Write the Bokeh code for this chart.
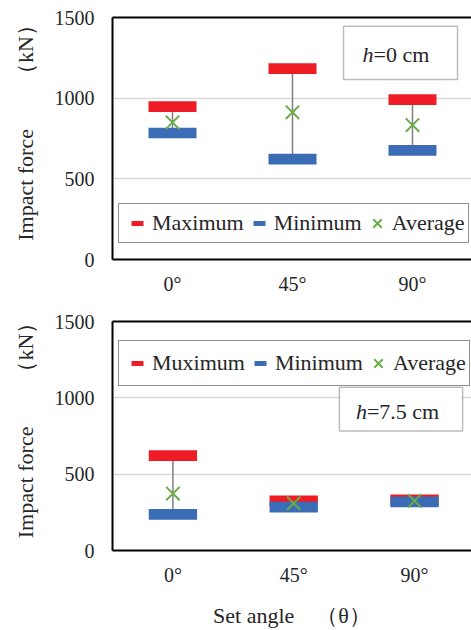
from bokeh.plotting import figure
from bokeh.layouts import column
from bokeh.models import (Range1d, FixedTicker, LinearAxis, Legend, LegendItem,
                          BoxAnnotation, Label, ColumnDataSource)
from bokeh.embed import file_html
from bokeh.resources import INLINE

# ---- data ----
categories = ["0°", "45°", "90°"]
max_h0 = [947, 1183, 991]
min_h0 = [784, 622, 676]
avg_h0 = [850, 912, 833]
max_h75 = [621, 325, 331]
min_h75 = [237, 284, 318]
avg_h75 = [373, 309, 325]
y_ticks = [0, 500, 1000, 1500]

RED = "#ee1c25"
BLUE = "#3b6cb6"
GREEN = "#6aad47"
GRAY = "#7f7f7f"
FONT = "Liberation Serif"
TXT = "#262626"


def make_panel(height, b_top, b_bottom, b_left, px_per_cat, maxv, minv, avgv,
               max_label, leg_loc, leg_h, box, htext, hx, hy, xlabel=None):
    frame_w = 471 - b_left
    p = figure(width=471, height=height, output_backend="svg", toolbar_location=None,
               x_range=Range1d(-0.5, -0.5 + frame_w / px_per_cat),
               y_range=Range1d(0, 1500),
               min_border_left=b_left, min_border_right=0,
               min_border_top=b_top, min_border_bottom=b_bottom)
    p.outline_line_color = None
    p.background_fill_color = "white"
    p.border_fill_color = "white"

    xs = list(range(len(categories)))
    src = ColumnDataSource(dict(x=xs, mx=maxv, mn=minv, av=avgv))

    # grid
    p.xgrid.visible = False
    p.ygrid.ticker = FixedTicker(ticks=y_ticks)
    p.ygrid.grid_line_color = "#d9d9d9"
    p.ygrid.grid_line_width = 1.5

    # axes
    p.yaxis.ticker = FixedTicker(ticks=y_ticks)
    p.xaxis.ticker = FixedTicker(ticks=xs)
    p.xaxis.major_label_overrides = {i: c for i, c in enumerate(categories)}
    for ax in (p.xaxis[0], p.yaxis[0]):
        ax.axis_line_color = "black"
        ax.axis_line_width = 2
        ax.major_tick_line_color = None
        ax.minor_tick_line_color = None
        ax.major_tick_out = 0
        ax.major_tick_in = 0
        ax.major_label_text_font = FONT
        ax.major_label_text_font_size = "20px"
        ax.major_label_text_color = TXT
        ax.axis_label_text_font = FONT
        ax.axis_label_text_font_size = "22px"
        ax.axis_label_text_font_style = "normal"
        ax.axis_label_text_color = TXT
    p.yaxis.major_label_standoff = 18
    p.xaxis.major_label_standoff = 13
    p.yaxis.axis_label = "　Impact force　　（kN）"
    p.yaxis.axis_label_standoff = 14
    if xlabel:
        p.xaxis.axis_label = xlabel
        p.xaxis.axis_label_standoff = 14

    top_ax = LinearAxis(ticker=FixedTicker(ticks=[]), axis_line_color="black",
                        axis_line_width=2, major_tick_line_color=None,
                        minor_tick_line_color=None, major_tick_out=0,
                        major_label_standoff=0, major_label_text_font_size="0px")
    p.add_layout(top_ax, "above")

    # high-low lines
    p.segment(x0="x", y0="mn", x1="x", y1="mx", source=src,
              line_color=GRAY, line_width=1.5)
    # bars
    p.rect(x="x", y="mx", width=0.4, height=10.7, height_units="screen",
           source=src, fill_color=RED, line_color=None)
    p.rect(x="x", y="mn", width=0.4, height=10.7, height_units="screen",
           source=src, fill_color=BLUE, line_color=None)
    r_avg = p.scatter(x="x", y="av", source=src, marker="x", size=19,
                      line_color=GREEN, line_width=2)

    # legend-only glyphs (hidden in the plot, shown in the legend)
    r_max = p.scatter(x="x", y="mx", source=src, marker="dash",
                      line_color=RED, line_width=5, visible=False)
    r_min = p.scatter(x="x", y="mn", source=src, marker="dash",
                      line_color=BLUE, line_width=5, visible=False)

    leg = Legend(items=[LegendItem(label=max_label, renderers=[r_max]),
                        LegendItem(label="Minimum", renderers=[r_min]),
                        LegendItem(label="Average", renderers=[r_avg])],
                 orientation="horizontal", location=leg_loc,
                 glyph_width=30, glyph_height=leg_h, label_height=leg_h,
                 label_standoff=-2, spacing=0, padding=3, margin=0,
                 click_policy="none",
                 label_text_font=FONT, label_text_font_size="22px",
                 label_text_color=TXT,
                 border_line_color="#222222", border_line_width=1.5,
                 background_fill_color="white", background_fill_alpha=1.0)
    p.add_layout(leg, "center")

    # h label box
    bl, br, bt, bb = box
    p.add_layout(BoxAnnotation(left=bl, right=br, top=bt, bottom=bb,
                               fill_color="white", fill_alpha=1.0,
                               line_color="#222222", line_width=1.5))
    p.add_layout(Label(x=hx, y=hy, text="h", text_font=FONT, text_font_size="22px",
                       text_font_style="italic", text_align="right",
                       text_baseline="middle", text_color=TXT))
    p.add_layout(Label(x=hx, y=hy, text=htext, text_font=FONT, text_font_size="22px",
                       text_align="left", text_baseline="middle", text_color=TXT))
    return p


p1 = make_panel(300, 17, 41, 112, 120.0, max_h0, min_h0, avg_h0, "Maximum",
                (6, 16), 32, (1.425, 2.375, 1446, 1115), "=0 cm", 1.675, 1270)
p2 = make_panel(330, 21, 75, 107, 122.5, max_h75, min_h75, avg_h75, "Muximum",
                (6, 164), 38, (1.378, 2.398, 1070, 782), "=7.5 cm", 1.606, 910,
                xlabel="Set angle　（θ）")

layout = column(p1, p2, spacing=0)
open("out.html", "w").write(file_html(layout, INLINE))
